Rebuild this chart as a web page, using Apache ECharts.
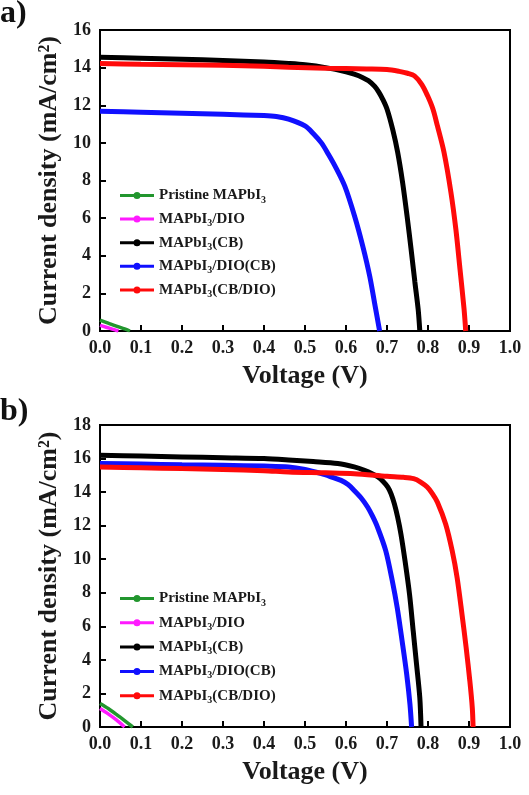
<!DOCTYPE html>
<html>
<head>
<meta charset="utf-8">
<script src="https://cdn.jsdelivr.net/npm/echarts@6/dist/echarts.min.js"></script>
<style>
  html, body { margin: 0; padding: 0; background: #fff; }
  #chart { width: 529px; height: 795px; }
</style>
</head>
<body>
<div id="chart"></div>
<script>
(function() {
  // legend names (rich text, {s|3} = subscript)
  const names = ['Pristine MAPbI3', 'MAPbI3/DIO', 'MAPbI3(CB)', 'MAPbI3/DIO(CB)', 'MAPbI3(CB/DIO)'];
  const colors = ['#22962e', '#ff1aff', '#000000', '#1010ff', '#ff0a0a'];

  const xTicks = [0, 0.1, 0.2, 0.3, 0.4, 0.5, 0.6, 0.7, 0.8, 0.9, 1.0];

  // panel a) [voltage V, current density mA/cm2]
  const aPristine = [[0, 0.58], [0.02, 0.42], [0.04, 0.26], [0.06, 0.11], [0.073, 0]];
  const aDIO = [[0, 0.3], [0.015, 0.2], [0.03, 0.1], [0.045, 0]];
  const aCB = [[0, 14.55], [0.1, 14.5], [0.2, 14.45], [0.3, 14.38], [0.4, 14.3], [0.46, 14.22],
    [0.5, 14.15], [0.55, 14.0], [0.6, 13.78], [0.62, 13.65], [0.64, 13.48], [0.655, 13.3],
    [0.67, 13.0], [0.68, 12.7], [0.69, 12.3], [0.7, 11.8], [0.714, 10.7], [0.726, 9.5],
    [0.738, 7.9], [0.749, 6.1], [0.759, 4.3], [0.768, 2.6], [0.776, 1.15], [0.78, 0]];
  const aDIOCB = [[0, 11.68], [0.1, 11.63], [0.2, 11.58], [0.3, 11.52], [0.4, 11.45], [0.43, 11.4],
    [0.46, 11.26], [0.5, 10.9], [0.52, 10.5], [0.54, 10.0], [0.557, 9.4], [0.573, 8.78],
    [0.597, 7.7], [0.621, 6.1], [0.641, 4.5], [0.658, 2.9], [0.671, 1.33], [0.682, 0]];
  const aCBDIO = [[0, 14.22], [0.1, 14.18], [0.2, 14.15], [0.3, 14.12], [0.4, 14.07], [0.46, 14.02],
    [0.55, 13.97], [0.65, 13.93], [0.7, 13.9], [0.73, 13.8], [0.75, 13.7], [0.767, 13.56],
    [0.785, 13.1], [0.799, 12.5], [0.812, 11.8], [0.823, 10.9], [0.839, 9.5], [0.856, 7.36],
    [0.868, 5.4], [0.878, 3.3], [0.888, 1.15], [0.892, 0]];

  // panel b)
  const bPristine = [[0, 1.4], [0.02, 1.1], [0.04, 0.75], [0.06, 0.38], [0.08, 0]];
  const bDIO = [[0, 1.1], [0.02, 0.78], [0.04, 0.42], [0.06, 0]];
  const bCB = [[0, 16.2], [0.1, 16.15], [0.2, 16.1], [0.3, 16.05], [0.4, 16.0], [0.46, 15.92],
    [0.52, 15.82], [0.58, 15.7], [0.62, 15.5], [0.645, 15.3], [0.665, 15.08], [0.678, 14.9],
    [0.69, 14.65], [0.702, 14.3], [0.71, 13.9], [0.718, 13.3], [0.726, 12.5], [0.734, 11.5],
    [0.744, 9.9], [0.755, 7.9], [0.764, 5.7], [0.772, 3.75], [0.78, 1.75], [0.783, 0]];
  const bDIOCB = [[0, 15.7], [0.1, 15.67], [0.2, 15.63], [0.3, 15.6], [0.4, 15.55], [0.46, 15.5],
    [0.5, 15.35], [0.54, 15.1], [0.565, 14.9], [0.588, 14.7], [0.605, 14.45], [0.62, 14.1],
    [0.637, 13.65], [0.653, 13.1], [0.665, 12.55], [0.677, 11.9], [0.697, 10.5], [0.713, 8.7],
    [0.725, 7.1], [0.737, 5.1], [0.748, 3.15], [0.756, 1.35], [0.76, 0]];
  const bCBDIO = [[0, 15.5], [0.1, 15.45], [0.2, 15.4], [0.3, 15.35], [0.4, 15.28], [0.46, 15.2],
    [0.55, 15.15], [0.62, 15.1], [0.7, 14.94], [0.74, 14.88], [0.765, 14.8], [0.782, 14.6],
    [0.798, 14.3], [0.811, 13.9], [0.823, 13.4], [0.843, 12.1], [0.859, 10.5], [0.871, 8.9],
    [0.883, 6.7], [0.893, 4.74], [0.902, 2.75], [0.908, 1.15], [0.91, 0]];

  const panels = [
    { data: [aPristine, aDIO, aCB, aDIOCB, aCBDIO], yMax: 16, top: 30, height: 301, legendTop: 183, gap: 6.6 },
    { data: [bPristine, bDIO, bCB, bDIOCB, bCBDIO], yMax: 18, top: 425, height: 302, legendTop: 586, gap: 7.3 }
  ];

  const font = 'Liberation Serif';
  const black = '#000';
  // line with a filled dot, like the original legend keys
  const keyIcon = 'path://M0,3.5H34V6.5H0Z M13.5,5a3.5,3.5 0 1,1 7,0a3.5,3.5 0 1,1 -7,0Z';

  const grid = [], xAxis = [], yAxis = [], legend = [], series = [];
  panels.forEach((p, i) => {
    grid.push({
      left: 100, right: 19, top: p.top, height: p.height,
      show: true, borderColor: black, borderWidth: 2, backgroundColor: 'transparent'
    });
    xAxis.push({
      gridIndex: i, type: 'value', min: xTicks[0], max: xTicks[xTicks.length - 1], interval: 0.1,
      name: 'Voltage (V)', nameLocation: 'middle', nameGap: 32,
      nameTextStyle: { fontFamily: font, fontWeight: 'bold', fontSize: 26, color: '#1a1a1a' },
      axisLine: { lineStyle: { color: black, width: 2 } },
      axisTick: { inside: true, length: 6, lineStyle: { color: black, width: 2 } },
      axisLabel: { fontFamily: font, fontWeight: 'bold', fontSize: 18, color: '#1a1a1a', margin: 8,
        formatter: v => v.toFixed(1) },
      splitLine: { show: false }
    });
    yAxis.push({
      gridIndex: i, type: 'value', min: 0, max: p.yMax, interval: 2,
      name: 'Current density (mA/cm²)', nameLocation: 'middle', nameGap: 32,
      nameTextStyle: { fontFamily: font, fontWeight: 'bold', fontSize: 26, color: '#1a1a1a' },
      axisLine: { lineStyle: { color: black, width: 2 } },
      axisTick: { inside: true, length: 6, lineStyle: { color: black, width: 2 } },
      axisLabel: { fontFamily: font, fontWeight: 'bold', fontSize: 18, color: '#1a1a1a', margin: 9 },
      splitLine: { show: false }
    });
    legend.push({
      orient: 'vertical', left: 115, top: p.legendTop, itemGap: p.gap,
      itemWidth: 34, itemHeight: 7, icon: keyIcon,
      data: names,
      formatter: n => n.replace('MAPbI3', 'MAPbI{s|3}'),
      textStyle: {
        fontFamily: font, fontWeight: 'bold', fontSize: 15, color: '#1a1a1a',
        rich: { s: { fontFamily: font, fontWeight: 'bold', fontSize: 10, color: '#1a1a1a',
          verticalAlign: 'bottom', padding: [9, 0, 0, 0] } }
      }
    });
    p.data.forEach((d, k) => {
      series.push({
        name: names[k], type: 'line', xAxisIndex: i, yAxisIndex: i,
        data: d, smooth: 0.3,
        symbol: 'circle', symbolSize: 6, showSymbol: false,
        lineStyle: { width: k < 2 ? 3.5 : 5, color: colors[k] },
        itemStyle: { color: colors[k] },
        z: 2 + k
      });
    });
  });

  const chart = echarts.init(document.getElementById('chart'));
  chart.setOption({
    animation: false,
    backgroundColor: '#fff',
    grid: grid,
    xAxis: xAxis,
    yAxis: yAxis,
    legend: legend,
    series: series,
    graphic: [
      { type: 'text', left: 0, top: -2, style: { text: 'a)', fontFamily: font, fontWeight: 'bold', fontSize: 32, fill: '#111' } },
      { type: 'text', left: 0, top: 396, style: { text: 'b)', fontFamily: font, fontWeight: 'bold', fontSize: 32, fill: '#111' } }
    ]
  });
}());
</script>
</body>
</html>
